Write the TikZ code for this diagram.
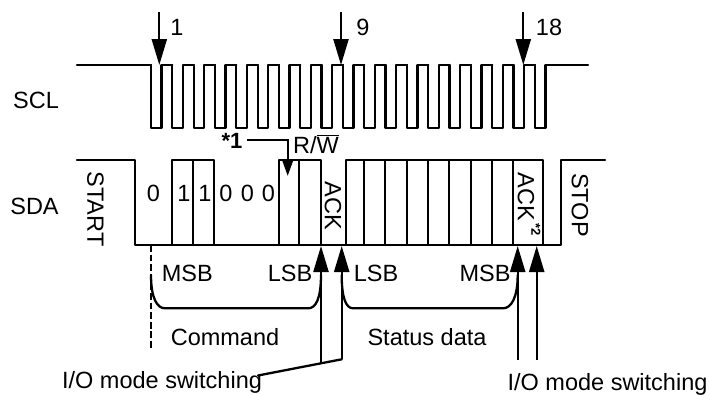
\documentclass[tikz,border=0pt]{standalone}
\usepackage{fontspec}
\setmainfont{Liberation Sans}
\usetikzlibrary{arrows.meta}

\tikzset{
  sigline/.style={line width=2.3pt,line cap=round,line join=round},
  bigarrow/.style={line width=2.3pt,-{Triangle[width=15pt,length=26pt]}},
  smallarrow/.style={line width=2.3pt,-{Triangle[width=10pt,length=15pt]}},
  lbl/.style={inner sep=0pt,font=\fontsize{23.5}{25}\selectfont},
  vlbl/.style={lbl,rotate=-90},
}

\begin{document}
\begin{tikzpicture}[x=1pt,y=-1pt]
  \useasboundingbox (0,0) rectangle (710,394);
  % SCL
  \draw[sigline] (77,65)--(151,65);
  \foreach \k in {0,...,18}
    {\draw[sigline] ({151+21.33*\k},65)--++(0,63)--++(10.6,0)--++(0,-63)--++(10.73,0);}
  \draw[sigline] (556,65)--(588,65);
  \node[lbl] (scl) at (36,100){SCL};
  \coordinate (clka) at (159.3,12);
  \coordinate (clkb) at (341,12);
  \coordinate (clkc) at (523.3,12);
  \draw[bigarrow] (clka)--(159.3,65);
  \draw[bigarrow] (clkb)--(341,65);
  \draw[bigarrow] (clkc)--(523.3,65);
  \node[lbl] (na) at (177,27){1};
  \node[lbl] (nb) at (363,27){9};
  \node[lbl] (nc) at (549,27){18};
  % SDA
  \node[lbl] (sda) at (34.5,206.5){SDA};
  \draw[sigline] (77,160)--(135,160)--(135,245)--(561,245)--(561,160)--(605,160);
  \draw[sigline] (172.3,245)--(172.3,160)--(214.3,160)--(214.3,245);
  \draw[sigline] (279,245)--(279,160)--(320.7,160)--(320.7,245);
  \draw[sigline] (345.7,245)--(345.7,160)--(543.3,160)--(543.3,245);
  \foreach \x in {193.3,299.3,364.3,385,406.7,428.3,449.3,470.7,491.7,513.3}
    {\draw[sigline] (\x,160)--(\x,245);}
  \foreach \x/\v in {153.3/0,184/1,205/1,226/0,247.3/0,268.3/0}
    {\node[lbl] at (\x,193){\v};}
  \node[vlbl] (start) at (95.5,209){START};
  \node[vlbl] (stop) at (580,205){STOP};
  \node[vlbl] (acka) at (333,206){ACK};
  \node[vlbl] (ackb) at (526,197){ACK};
  \node[rotate=-90,inner sep=0pt,font=\fontsize{13}{14}\selectfont\bfseries] (star) at (536,230){*2};
  \node[inner sep=0pt,font=\fontsize{22}{24}\selectfont\bfseries] (noteone) at (232,141){*1};
  \node[lbl,anchor=base west] (rw) at (293,153){R/$\overline{\mbox{W}}$};
  \coordinate (rwtip) at (287.7,176);
  \draw[smallarrow] (noteone.east)++(4,-1)-|(rwtip);
  % lower part
  \foreach \x/\n/\l in {187.3/ma/MSB,290/la/LSB,376/lb/LSB,485/mb/MSB}
    {\node[lbl] (\n) at (\x,273){\l};}
  \draw[sigline,line cap=butt,dash pattern=on 6.7pt off 2.9pt] (150.7,245)--(150.7,348);
  \draw[sigline] (151,275) .. controls (151,298) and (157,308.3) .. (165,308.3)
    -- (308.3,308.3) .. controls (316,308.3) and (321,298) .. (321,275);
  \draw[sigline] (341.7,275) .. controls (341.7,298) and (346,308.3) .. (353,308.3)
    -- (503,308.3) .. controls (511,308.3) and (517.7,298) .. (517.7,275);
  \node[lbl] (cmd) at (225,337){Command};
  \node[lbl] (stat) at (427,337){Status data};
  \node[lbl,anchor=base] (ioa) at (162,388.8){I/O mode switching};
  \node[lbl,anchor=base] (iob) at (607.5,390){I/O mode switching};
  \coordinate (joina) at (321,363);
  \coordinate (joinb) at (341.7,359.3);
  \coordinate (leadend) at (258,375.5);
  \draw[bigarrow] (joina)--(321,246);
  \draw[bigarrow] (joinb)--(341.7,246);
  \draw[sigline] (leadend)--(joinb);
  \coordinate (footc) at (517.7,360);
  \coordinate (footd) at (536.7,360);
  \draw[bigarrow] (footc)--(517.7,246);
  \draw[bigarrow] (footd)--(536.7,246);
\end{tikzpicture}
\end{document}
